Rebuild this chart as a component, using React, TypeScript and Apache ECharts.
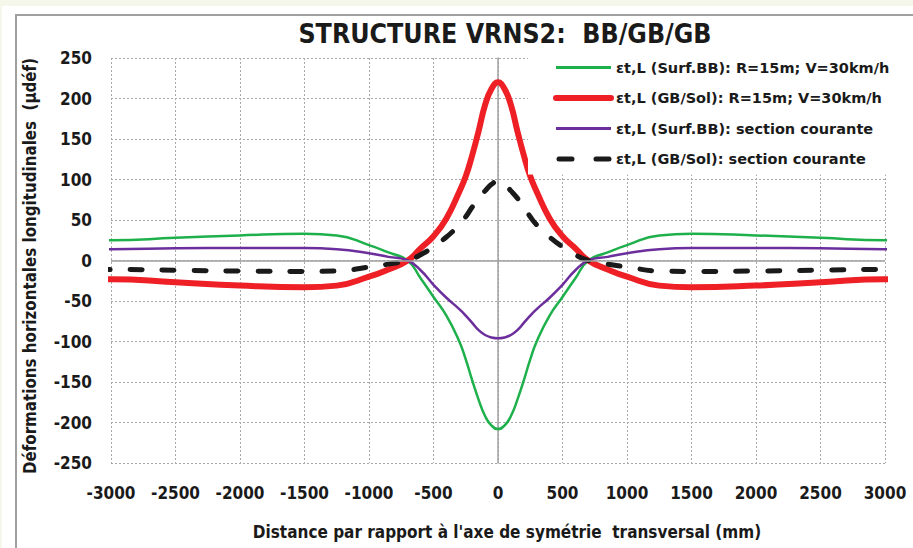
import React, { useEffect, useRef } from "react";
import * as echarts from "echarts";

const xs = [-3100, -3000, -2500, -2000, -1500, -1250, -1000, -850, -700, -600, -500, -400, -300, -250, -200, -150, -100, -50, 0,
  50, 100, 150, 200, 250, 300, 400, 500, 600, 700, 850, 1000, 1250, 1500, 2000, 2500, 3000, 3100];

const greenRL = [25, 25, 28, 31, 33, 31, 19, 10, 0, -22, -45, -68, -100, -122, -148, -172, -192, -204, -208,
  -204, -192, -172, -148, -122, -100, -68, -45, -22, 0, 10, 19, 31, 33, 31, 28, 25, 25];
const redRL = [-23, -23, -27, -31, -33, -31, -20, -11, 0, 15, 30, 52, 85, 104, 130, 160, 192, 212, 220,
  212, 192, 160, 130, 104, 85, 52, 30, 15, 0, -11, -20, -31, -33, -31, -27, -23, -23];
const purpleSC = [14, 14, 15, 15.5, 15.5, 14, 9, 4.5, 0, -12, -30, -46, -60, -68, -77, -86, -92, -95, -96,
  -95, -92, -86, -77, -68, -60, -46, -30, -12, 0, 4.5, 9, 14, 15.5, 15.5, 15, 14, 14];
const blackSC = [-11, -11, -12, -13, -13.5, -13, -8, -4.5, 0, 7, 17, 29, 44, 54, 66, 77, 86, 94, 98,
  94, 86, 77, 66, 54, 44, 29, 17, 7, 0, -4.5, -8, -13, -13.5, -13, -12, -11, -11];

const seriesNames = [
  "εt,L (Surf.BB): R=15m; V=30km/h",
  "εt,L (GB/Sol): R=15m; V=30km/h",
  "εt,L (Surf.BB): section courante",
  "εt,L (GB/Sol): section courante",
];

const title = "STRUCTURE VRNS2:  BB/GB/GB";
const yName = "Déformations horizontales longitudinales  (µdéf)";
const xName = "Distance par rapport à l'axe de symétrie  transversal (mm)";

const NARROW = "'DejaVu Sans Condensed', 'Liberation Sans Narrow', 'Liberation Sans', Arial, sans-serif";
const SANS = "'DejaVu Sans', 'Liberation Sans', Arial, sans-serif";

const GREEN = "#1eb04b";
const RED = "#ee1f25";
const PURPLE = "#6b2e9c";
const BLACK = "#1a1a1a";

export default function App() {
  const ref = useRef<HTMLDivElement>(null);
  useEffect(() => {
    if (!ref.current) return;
    const chart = echarts.init(ref.current, null, { renderer: "svg" });
    const pairs = (vals: number[]) => xs.map((x, i) => [x, vals[i]]);
    const lineCommon = { type: "line", smooth: true, symbol: "none", clip: false };
    const option: any = {
      animation: false,
      backgroundColor: "#ffffff",
      grid: { left: 111, right: 28, top: 58, bottom: 85 },
      xAxis: {
        type: "value",
        min: -3000,
        max: 3000,
        interval: 500,
        axisLine: { show: false, onZero: false },
        axisTick: { show: false },
        axisLabel: {
          margin: 21,
          fontFamily: NARROW,
          fontWeight: "bold",
          fontSize: 17,
          color: BLACK,
          formatter: (v: number) => String(v),
        },
        splitLine: { show: true, lineStyle: { type: [2, 2], color: "#a8a8a8", width: 1 } },
      },
      yAxis: {
        type: "value",
        min: -250,
        max: 250,
        interval: 50,
        axisLine: { show: true, lineStyle: { color: "#a0a0a0", width: 1.5 } },
        axisTick: { show: false },
        axisLabel: {
          margin: 19,
          fontFamily: NARROW,
          fontWeight: "bold",
          fontSize: 17,
          color: BLACK,
        },
        splitLine: { show: true, lineStyle: { type: [2, 2], color: "#a8a8a8", width: 1 } },
      },
      legend: {
        orient: "vertical",
        left: 528,
        top: 52,
        padding: [8, 12, 8, 25],
        backgroundColor: "#ffffff",
        itemWidth: 55,
        itemHeight: 14,
        itemGap: 15.5,
        data: [
          { name: seriesNames[0], lineStyle: { color: GREEN, width: 3 } },
          { name: seriesNames[1], lineStyle: { color: RED, width: 6, cap: "round" } },
          { name: seriesNames[2], lineStyle: { color: PURPLE, width: 3 } },
          { name: seriesNames[3], lineStyle: { color: BLACK, width: 5, type: [13, 24], cap: "round", dashOffset: -3 } },
        ],
        itemStyle: { opacity: 0 },
        textStyle: { fontFamily: SANS, fontWeight: "bold", fontSize: 14.5, color: BLACK },
      },
      graphic: [
        { type: "rect", shape: { x: 0, y: 0, width: 913, height: 6 }, style: { fill: "#f4f7e9" }, silent: true },
        { type: "rect", shape: { x: 0, y: 0, width: 2, height: 548 }, style: { fill: "#f4f7e9" }, silent: true },
        { type: "line", shape: { x1: 15, y1: 15, x2: 913, y2: 15 }, style: { stroke: "#a0a0a0", lineWidth: 2 }, silent: true },
        { type: "line", shape: { x1: 16, y1: 15, x2: 16, y2: 548 }, style: { stroke: "#a0a0a0", lineWidth: 2 }, silent: true },
        {
          type: "text", x: 505, y: 33,
          style: { text: title, fontFamily: NARROW, fontWeight: "bold", fontSize: 26.5, fill: BLACK, align: "center", verticalAlign: "middle" },
        },
        {
          type: "text", x: 30, y: 266, rotation: Math.PI / 2,
          style: { text: yName, fontFamily: NARROW, fontWeight: "bold", fontSize: 16.8, fill: BLACK, align: "center", verticalAlign: "middle" },
        },
        {
          type: "text", x: 507, y: 532,
          style: { text: xName, fontFamily: NARROW, fontWeight: "bold", fontSize: 17, fill: BLACK, align: "center", verticalAlign: "middle" },
        },
      ],
      series: [
        {
          name: "zero",
          type: "line",
          data: [],
          z: 1,
          markLine: {
            silent: true,
            symbol: "none",
            label: { show: false },
            lineStyle: { color: "#a0a0a0", type: "solid", width: 1.5 },
            data: [{ yAxis: 0 }],
          },
        },
        {
          ...lineCommon, name: seriesNames[0], data: pairs(greenRL),
          lineStyle: { color: GREEN, width: 2.5 }, itemStyle: { color: GREEN },
        },
        {
          ...lineCommon, name: seriesNames[1], data: pairs(redRL),
          lineStyle: { color: RED, width: 6, cap: "round" }, itemStyle: { color: RED },
        },
        {
          ...lineCommon, name: seriesNames[2], data: pairs(purpleSC),
          lineStyle: { color: PURPLE, width: 2.5 }, itemStyle: { color: PURPLE },
        },
        {
          ...lineCommon, name: seriesNames[3], data: pairs(blackSC),
          lineStyle: { color: BLACK, width: 5, type: [12, 20], cap: "round" }, itemStyle: { color: BLACK },
        },
      ],
    };
    chart.setOption(option);
    return () => chart.dispose();
  }, []);
  return (
    <div
      ref={ref}
      style={{ position: "absolute", left: 0, top: 0, width: 913, height: 548 }}
    />
  );
}
